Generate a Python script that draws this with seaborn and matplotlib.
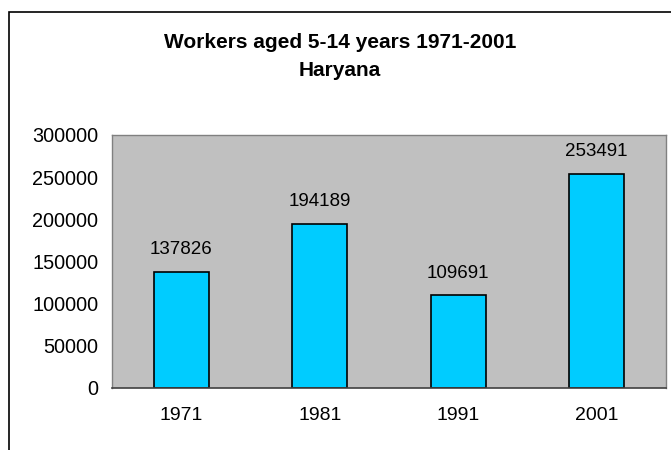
import matplotlib
matplotlib.use('Agg')
import matplotlib.pyplot as plt
import seaborn as sns
import pandas as pd
from matplotlib.patches import Rectangle

# --- Data ---
years = ['1971', '1981', '1991', '2001']
workers = [137826, 194189, 109691, 253491]
y_ticks = [0, 50000, 100000, 150000, 200000, 250000, 300000]

df = pd.DataFrame({'year': years, 'workers': workers})

sns.set_style('white')
plt.rcParams['font.family'] = ['Liberation Sans', 'DejaVu Sans']
plt.rcParams['text.color'] = 'black'
plt.rcParams['xtick.color'] = 'black'
plt.rcParams['ytick.color'] = 'black'

fig = plt.figure(figsize=(6.71, 4.5), dpi=100)
ax = fig.add_axes([0.167, 0.138, 0.8255, 0.562])

sns.barplot(data=df, x='year', y='workers', color='#00CCFF', width=0.4,
            edgecolor='black', linewidth=1.2, saturation=1, ax=ax)
ax.set_facecolor('#C0C0C0')
ax.set_ylim(0, 300000)
ax.set_yticks(y_ticks)
ax.set_yticklabels([str(t) for t in y_ticks])
ax.tick_params(axis='y', length=0, labelsize=14.3, pad=10)
ax.tick_params(axis='x', length=0, labelsize=14, pad=14)
ax.set_xlabel('')
ax.set_ylabel('')

for s in ['top', 'right', 'left']:
    ax.spines[s].set_color('#808080')
    ax.spines[s].set_linewidth(1)
ax.spines['bottom'].set_color('#404040')
ax.spines['bottom'].set_linewidth(1.2)

# value labels above bars
for i, v in enumerate(workers):
    ax.annotate(str(v), (i, v), xytext=(0, 10), textcoords='offset points',
                ha='center', va='bottom', fontsize=13.5)

fig.text(0.507, 0.874, 'Workers aged 5-14 years 1971-2001\nHaryana',
         ha='center', va='center', fontsize=15, fontweight='bold',
         linespacing=1.6)

# outer chart border (cut off at right and bottom)
fig.patches.append(Rectangle((9 / 671, -0.1), 1.2, 1 - 12 / 450 + 0.1,
                             transform=fig.transFigure, fill=False,
                             edgecolor='black', linewidth=1.2))

fig.savefig('out.png', dpi=100)
